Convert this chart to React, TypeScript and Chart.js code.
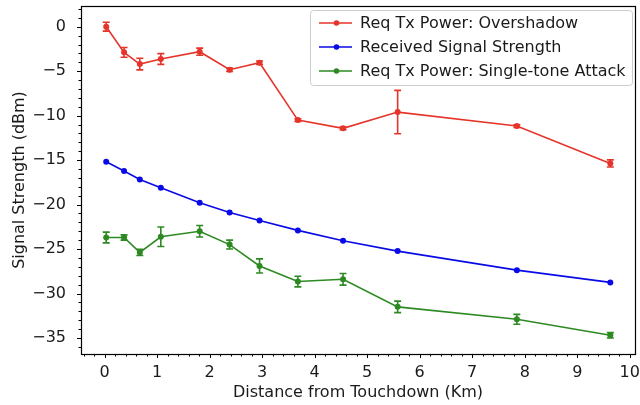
import React, { useEffect, useRef } from "react";
import { Chart, registerables } from "chart.js";

Chart.register(...registerables);

const distances = [0.03, 0.37, 0.67, 1.07, 1.81, 2.38, 2.95, 3.68, 4.54, 5.58, 7.85, 9.63];
const overshadow = [0.0, -2.88, -4.2, -3.63, -2.81, -4.84, -4.05, -10.5, -11.43, -9.6, -11.17, -15.37];
const overshadowErr = [0.5, 0.55, 0.65, 0.6, 0.4, 0.2, 0.2, 0.15, 0.15, 2.44, 0.15, 0.4];
const received = [-15.19, -16.23, -17.17, -18.1, -19.8, -20.88, -21.8, -22.9, -24.07, -25.23, -27.37, -28.75];
const singleTone = [-23.7, -23.7, -25.38, -23.62, -23.0, -24.5, -26.9, -28.65, -28.4, -31.5, -32.9, -34.7];
const singleToneErr = [0.6, 0.3, 0.35, 1.1, 0.65, 0.5, 0.8, 0.6, 0.65, 0.65, 0.55, 0.3];

const seriesLabels = [
  "Req Tx Power: Overshadow",
  "Received Signal Strength",
  "Req Tx Power: Single-tone Attack",
];
const seriesColors = ["#e5352b", "#0a0ae6", "#2d8a22"];

const xTitle = "Distance from Touchdown (Km)";
const yTitle = "Signal Strength (dBm)";

const FONT = "'DejaVu Sans', sans-serif";
const FS = 16;

const pts = (ys: number[]) => ys.map((y, i) => ({ x: distances[i], y }));

const errorBarPlugin = {
  id: "errorBars",
  afterDatasetsDraw(chart: any) {
    const ctx = chart.ctx;
    const xs = chart.scales.x;
    const ys = chart.scales.y;
    chart.data.datasets.forEach((ds: any) => {
      if (!ds.errors) return;
      ctx.save();
      ctx.strokeStyle = ds.borderColor;
      ctx.lineWidth = 1.6;
      ds.data.forEach((p: any, i: number) => {
        const e = ds.errors[i];
        const px = xs.getPixelForValue(p.x);
        const top = ys.getPixelForValue(p.y + e);
        const bot = ys.getPixelForValue(p.y - e);
        ctx.beginPath();
        ctx.moveTo(px, top);
        ctx.lineTo(px, bot);
        ctx.moveTo(px - 3.5, top);
        ctx.lineTo(px + 3.5, top);
        ctx.moveTo(px - 3.5, bot);
        ctx.lineTo(px + 3.5, bot);
        ctx.stroke();
      });
      ctx.restore();
    });
  },
};

const framePlugin = {
  id: "frameTicks",
  afterDraw(chart: any) {
    const ctx = chart.ctx;
    const { left, right, top, bottom } = chart.chartArea;
    const xs = chart.scales.x;
    const ys = chart.scales.y;
    ctx.save();
    ctx.strokeStyle = "#000";
    ctx.lineWidth = 1;
    ctx.beginPath();
    for (let k = Math.ceil(xs.min * 5); k <= Math.floor(xs.max * 5); k++) {
      const v = k / 5;
      const px = Math.round(xs.getPixelForValue(v)) + 0.5;
      const len = k % 5 === 0 ? 4 : 2.5;
      ctx.moveTo(px, bottom);
      ctx.lineTo(px, bottom + len);
    }
    for (let k = Math.ceil(ys.min); k <= Math.floor(ys.max); k++) {
      const py = Math.round(ys.getPixelForValue(k)) + 0.5;
      const len = k % 5 === 0 ? 4 : 2.5;
      ctx.moveTo(left, py);
      ctx.lineTo(left - len, py);
    }
    ctx.stroke();
    ctx.lineWidth = 1.2;
    ctx.strokeRect(Math.round(left) + 0.5, Math.round(top) + 0.5, Math.round(right - left), Math.round(bottom - top));

    // legend
    const lw = 322;
    const lh = 75;
    const lx = right - lw - 3;
    const ly = top + 4;
    ctx.fillStyle = "rgba(255,255,255,0.85)";
    ctx.strokeStyle = "#cccccc";
    ctx.lineWidth = 1;
    ctx.beginPath();
    (ctx as any).roundRect(lx + 0.5, ly + 0.5, lw, lh, 3);
    ctx.fill();
    ctx.stroke();
    ctx.font = `${FS}px ${FONT}`;
    ctx.textBaseline = "middle";
    ctx.textAlign = "left";
    chart.data.datasets.forEach((ds: any, i: number) => {
      const cy = ly + 13 + i * 24;
      ctx.strokeStyle = ds.borderColor;
      ctx.lineWidth = 1.6;
      ctx.beginPath();
      ctx.moveTo(lx + 9, cy);
      ctx.lineTo(lx + 42, cy);
      ctx.stroke();
      ctx.fillStyle = ds.borderColor;
      ctx.beginPath();
      ctx.arc(lx + 26.5, cy, 2.8, 0, Math.PI * 2);
      ctx.fill();
      ctx.fillStyle = "#1a1a1a";
      ctx.fillText(ds.label, lx + 50, cy + 1);
    });
    ctx.restore();
  },
};

const minusFmt = (v: any) => String(v).replace("-", "\u2212");

export default function App() {
  const ref = useRef<HTMLCanvasElement | null>(null);
  useEffect(() => {
    document.body.style.margin = "0";
    const mk = (label: string, color: string, ys: number[], errs?: number[]) => ({
      label,
      data: pts(ys),
      errors: errs,
      borderColor: color,
      backgroundColor: color,
      borderWidth: 1.6,
      pointRadius: 3,
      pointHoverRadius: 3,
      pointBorderWidth: 0,
      tension: 0,
      fill: false,
    });
    const chart = new Chart(ref.current as HTMLCanvasElement, {
      type: "line",
      data: {
        datasets: [
          mk(seriesLabels[0], seriesColors[0], overshadow, overshadowErr),
          mk(seriesLabels[1], seriesColors[1], received),
          mk(seriesLabels[2], seriesColors[2], singleTone, singleToneErr),
        ] as any,
      },
      options: {
        animation: false,
        responsive: false,
        layout: { padding: { left: 0, right: 5, top: 6, bottom: 0 } },
        plugins: { legend: { display: false }, tooltip: { enabled: false } },
        scales: {
          x: {
            type: "linear",
            min: -0.45,
            max: 10.1,
            grid: { display: false, drawTicks: false },
            border: { display: false },
            ticks: {
              stepSize: 1,
              includeBounds: false,
              color: "#1a1a1a",
              font: { family: FONT, size: FS },
              padding: 9,
              maxRotation: 0,
              autoSkip: false,
              callback: (v: any) => minusFmt(v),
            },
            title: {
              display: true,
              text: xTitle,
              color: "#1a1a1a",
              font: { family: FONT, size: FS },
              padding: { top: 0, bottom: 3 },
            },
            afterFit: (s: any) => {
              s.height = 51;
              s.paddingLeft = 0;
              s.paddingRight = 0;
            },
          },
          y: {
            type: "linear",
            min: -36.8,
            max: 2.33,
            grid: { display: false, drawTicks: false },
            border: { display: false },
            ticks: {
              stepSize: 5,
              includeBounds: false,
              color: "#1a1a1a",
              font: { family: FONT, size: FS },
              padding: 15,
              autoSkip: false,
              callback: (v: any) => minusFmt(v),
            },
            title: {
              display: true,
              text: yTitle,
              color: "#1a1a1a",
              font: { family: FONT, size: FS },
              padding: { top: 10, bottom: 0 },
            },
            afterFit: (s: any) => {
              s.width = 81;
              s.paddingTop = 0;
              s.paddingBottom = 0;
            },
          },
        },
      } as any,
      plugins: [errorBarPlugin, framePlugin],
    });
    return () => chart.destroy();
  }, []);
  return (
    <div style={{ position: "absolute", left: 0, top: 0, width: 640, height: 405, background: "#fff" }}>
      <canvas ref={ref} width={640} height={405} />
    </div>
  );
}
